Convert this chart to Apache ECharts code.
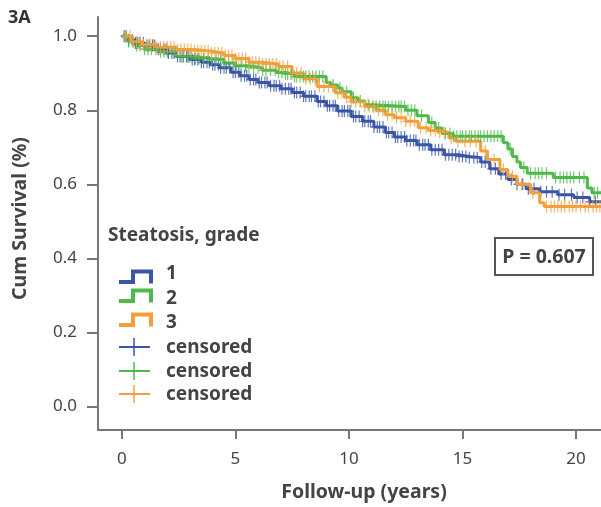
<!DOCTYPE html>
<html>
<head>
<meta charset="utf-8">
<script src="https://cdn.jsdelivr.net/npm/echarts@6/dist/echarts.min.js"></script>
<style>html,body{margin:0;padding:0;background:#fff}#c{width:601px;height:507px}</style>
</head>
<body>
<div id="c"></div>
<script>
// ---- data ----
var xTicks = [0, 5, 10, 15, 20];
var yTicks = [0, 0.2, 0.4, 0.6, 0.8, 1.0];

// Grade 1 (blue): event times and survival after each event
var t1 = [0,0.3,0.6,1.0,1.5,2.0,2.4,3.0,3.5,3.9,4.3,4.8,5.2,5.6,6.0,6.5,7.0,7.5,8.0,8.6,9.0,9.5,10.1,10.6,11.1,11.6,12.0,12.5,13.0,13.6,14.2,14.8,15.3,15.8,16.2,16.6,17.0,17.4,17.8,18.4,19.2,19.9,20.6,21.2];
var s1 = [1.0,0.99,0.982,0.975,0.965,0.955,0.945,0.937,0.93,0.923,0.915,0.903,0.893,0.883,0.875,0.866,0.858,0.848,0.838,0.824,0.812,0.798,0.783,0.77,0.755,0.74,0.728,0.718,0.707,0.693,0.68,0.675,0.672,0.66,0.642,0.628,0.613,0.6,0.588,0.58,0.572,0.564,0.553,0.553];
// Grade 2 (green)
var t2 = [0,0.3,0.6,1.0,1.6,2.4,3.2,3.9,4.5,5.0,5.6,6.2,6.8,7.2,7.6,9.0,9.2,9.5,9.7,10.1,10.4,10.7,11.0,12.5,13.0,13.5,13.8,14.1,14.6,16.8,17.0,17.2,17.4,17.55,17.85,19.0,20.5,20.7,21.2];
var s2 = [1.0,0.985,0.975,0.965,0.958,0.945,0.94,0.937,0.928,0.92,0.915,0.908,0.902,0.898,0.891,0.875,0.868,0.86,0.85,0.834,0.825,0.815,0.81,0.8,0.785,0.767,0.752,0.737,0.73,0.712,0.695,0.675,0.66,0.645,0.63,0.618,0.59,0.577,0.577];
// Grade 3 (orange)
var t3 = [0,0.4,0.9,1.5,2.4,3.2,3.9,4.5,5.0,5.6,6.2,6.9,7.5,8.0,8.6,9.4,9.8,10.1,10.7,11.2,11.6,12.0,12.5,13.05,13.5,14.0,14.4,14.7,15.8,16.1,16.65,17.0,17.4,18.0,18.4,18.6,21.2];
var s3 = [1.0,0.985,0.977,0.97,0.964,0.96,0.955,0.948,0.94,0.93,0.925,0.918,0.9,0.885,0.864,0.847,0.835,0.823,0.81,0.8,0.788,0.78,0.77,0.753,0.745,0.74,0.726,0.716,0.69,0.667,0.64,0.622,0.6,0.577,0.55,0.54,0.54];

// censored times
var c1 = [0.1,0.2,0.3,0.45,0.6,0.7,0.8,0.95,1.1,1.2,1.35,1.45,1.6,1.7,1.85,1.95,2.05,2.2,2.3,2.45,2.6,2.7,2.85,2.95,3.1,3.2,3.35,3.5,3.6,3.75,3.85,4.0,4.1,4.25,4.35,4.5,4.6,4.75,4.9,5.0,5.15,5.25,5.4,5.5,5.65,5.8,5.9,6.05,6.15,6.3,6.4,6.55,6.7,6.8,6.95,7.05,7.2,7.35,7.45,7.6,7.7,7.85,8.0,8.1,8.25,8.35,8.5,8.65,8.75,8.9,9.05,9.15,9.3,9.4,9.55,9.7,9.8,9.95,10.05,10.2,10.3,10.45,10.6,10.7,10.85,10.95,11.1,11.25,11.35,11.5,11.65,11.75,11.9,12.05,12.15,12.3,12.45,12.55,12.7,12.85,12.95,13.1,13.25,13.35,13.5,13.65,13.8,13.95,14.1,14.25,14.4,14.55,14.7,14.85,15.0,15.15,15.3,15.5,15.65,15.85,16.0,16.25,16.45,16.7,16.9,17.15,17.4,17.65,17.9,18.15,18.45,18.7,18.95,19.25,19.5,19.8,20.05,20.3,20.6,20.85];
var c2 = [0.15,0.3,0.5,0.65,0.8,1.0,1.15,1.3,1.5,1.7,1.85,2.0,2.2,2.35,2.55,2.7,2.9,3.05,3.25,3.4,3.6,3.8,3.95,4.15,4.35,4.5,4.7,4.9,5.05,5.25,5.45,5.6,5.8,6.0,6.2,6.35,6.55,6.75,6.9,7.05,7.2,7.3,7.45,7.6,7.7,7.85,8.0,8.1,8.25,8.4,8.55,8.7,8.85,9.3,9.6,9.9,10.2,10.5,10.85,11.05,11.2,11.35,11.5,11.6,11.75,11.9,12.05,12.2,12.3,12.45,12.6,12.75,12.9,13.2,13.65,13.95,14.25,14.45,14.6,14.75,14.9,15.0,15.15,15.3,15.4,15.55,15.7,15.8,15.95,16.1,16.25,16.4,16.55,16.7,17.1,17.7,18.0,18.2,18.35,18.5,18.7,19.1,19.3,19.45,19.6,19.75,19.9,20.15,20.35,20.8,20.95];
var c3 = [0.2,0.35,0.5,0.65,0.8,0.95,1.1,1.25,1.4,1.55,1.7,1.85,2.0,2.15,2.3,2.45,2.6,2.75,2.9,3.05,3.2,3.35,3.5,3.65,3.8,3.95,4.1,4.25,4.4,4.55,4.7,4.85,5.0,5.15,5.3,5.45,5.6,5.75,5.9,6.05,6.2,6.35,6.5,6.65,6.8,6.95,7.1,7.3,7.5,7.7,7.9,8.1,8.3,8.5,8.7,8.9,9.1,9.3,9.5,9.7,9.9,10.1,10.3,10.5,10.7,10.9,11.1,11.3,11.5,11.7,11.9,12.1,12.3,12.5,12.7,12.9,13.15,13.4,13.6,13.8,14.0,14.2,14.5,14.8,15.1,15.35,15.6,16.0,16.4,16.8,17.2,17.6,18.1,18.7,18.9,19.05,19.2,19.35,19.5,19.7,19.85,20.0,20.2,20.4,20.55,20.75,20.9,21.05];

var groupNames = ['1', '2', '3'];
var colors = ['#3b55a8', '#4dba4a', '#f3a03c'];

// ---- build ----
function pairs(t, s) { return t.map(function (v, i) { return [v, s[i]]; }); }
function stepAt(t, s, x) { var k = 0; for (var i = 0; i < t.length; i++) { if (t[i] <= x) k = i; } return s[k]; }
function censPts(c, t, s) { return c.map(function (x) { return [x, stepAt(t, s, x)]; }); }

var plus = 'path://M-0.17,-1 L0.17,-1 L0.17,1 L-0.17,1 Z M-1,-0.12 L1,-0.12 L1,0.12 L-1,0.12 Z';
var curves = [[t1, s1, c1], [t2, s2, c2], [t3, s3, c3]];
var series = [];
curves.forEach(function (g, i) {
  series.push({
    type: 'line', name: groupNames[i], step: 'end', data: pairs(g[0], g[1]),
    symbol: 'none', lineStyle: { color: colors[i], width: 3 }, clip: true, z: 2 + i, silent: true
  });
});
curves.forEach(function (g, i) {
  series.push({
    type: 'scatter', name: 'censored', data: censPts(g[2], g[0], g[1]),
    symbol: plus, symbolSize: [7, 12], symbolKeepAspect: false,
    itemStyle: { color: colors[i] }, clip: true, z: 3 + i, silent: true
  });
});

var FONT = 'Noto Sans';
var TXT = '#444';
var AX = '#777';

var gfx = [];
gfx.push({ type: 'text', left: 8, top: 9, style: { text: '3A', font: 'bold 18px "' + FONT + '"', fill: '#333' } });
gfx.push({ type: 'text', left: 108, top: 226, style: { text: 'Steatosis, grade', font: 'bold 19px "' + FONT + '"', fill: TXT } });
var stepY = [271.5, 290.5, 314.5];
var txtY = [274, 299, 323];
for (var i = 0; i < 3; i++) {
  var y0 = stepY[i];
  gfx.push({ type: 'polyline', shape: { points: [[119, y0 + 10.5], [133, y0 + 10.5], [133, y0], [151, y0], [151, y0 + 12]] },
    style: { stroke: colors[i], lineWidth: 4, fill: null } });
  gfx.push({ type: 'text', x: 166, y: txtY[i], style: { text: groupNames[i], font: 'bold 19px "' + FONT + '"', fill: TXT, textVerticalAlign: 'middle' } });
}
var cenY = [347, 371, 394];
for (var j = 0; j < 3; j++) {
  var cy = cenY[j];
  gfx.push({ type: 'line', shape: { x1: 119, y1: cy, x2: 150, y2: cy }, style: { stroke: colors[j], lineWidth: 2 } });
  gfx.push({ type: 'line', shape: { x1: 134, y1: cy - 9, x2: 134, y2: cy + 9 }, style: { stroke: colors[j], lineWidth: 1.5 } });
  gfx.push({ type: 'text', x: 166, y: cy + 1, style: { text: 'censored', font: 'bold 19px "' + FONT + '"', fill: TXT, textVerticalAlign: 'middle' } });
}
gfx.push({ type: 'rect', shape: { x: 495, y: 238, width: 98, height: 37 }, style: { stroke: '#555', lineWidth: 2, fill: '#fff' } });
gfx.push({ type: 'text', x: 544, y: 257, style: { text: 'P = 0.607', font: 'bold 19.5px "' + FONT + '"', fill: TXT, textAlign: 'center', textVerticalAlign: 'middle' } });

var chart = echarts.init(document.getElementById('c'), null, { renderer: 'canvas' });
chart.setOption({
  animation: false,
  backgroundColor: '#fff',
  grid: { left: 98, top: 17, right: 0, bottom: 77, containLabel: false },
  xAxis: {
    type: 'value', min: -1.05, max: 21.1,
    name: 'Follow-up (years)', nameLocation: 'middle', nameGap: 52,
    nameTextStyle: { fontFamily: FONT, fontWeight: 'bold', fontSize: 19.5, color: TXT, padding: [0, 0, 0, 29] },
    axisLine: { show: true, onZero: false, lineStyle: { color: AX, width: 2 } },
    axisTick: { show: true, customValues: xTicks, length: 9, lineStyle: { color: AX, width: 2 } },
    axisLabel: { customValues: xTicks, margin: 21, fontFamily: FONT, fontSize: 17, color: TXT },
    splitLine: { show: false }
  },
  yAxis: {
    type: 'value', min: -0.064, max: 1.052,
    name: 'Cum Survival (%)', nameLocation: 'middle', nameGap: 68, nameRotate: 90,
    nameTextStyle: { fontFamily: FONT, fontWeight: 'bold', fontSize: 19.5, color: TXT, padding: [0, 0, 0, 10] },
    axisLine: { show: true, onZero: false, lineStyle: { color: AX, width: 2 } },
    axisTick: { show: true, customValues: yTicks, length: 11, lineStyle: { color: AX, width: 2 } },
    axisLabel: { customValues: yTicks, margin: 21, fontFamily: FONT, fontSize: 17, color: TXT,
      formatter: function (v) { return v.toFixed(1); } },
    splitLine: { show: false }
  },
  series: series,
  graphic: gfx
});
</script>
</body>
</html>
